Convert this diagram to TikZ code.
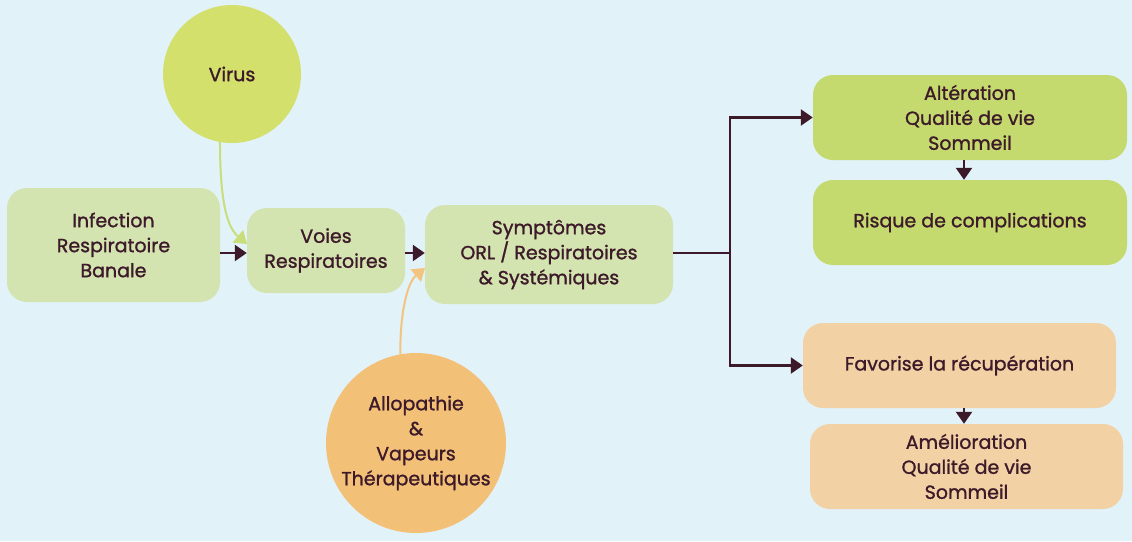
\documentclass[tikz,border=0pt]{standalone}
\usepackage{fontspec}
\setmainfont{Poppins}
\newfontfamily\medfont{Poppins}[UprightFeatures={FakeBold=1.2}]
\usetikzlibrary{arrows.meta}
\definecolor{bg}{HTML}{E1F2F8}
\definecolor{txt}{HTML}{3D1A2A}
\definecolor{lgreen}{HTML}{D4E4B0}
\definecolor{mgreen}{HTML}{C4D96E}
\definecolor{vgreen}{HTML}{D3E06C}
\definecolor{lorange}{HTML}{F2D2A5}
\definecolor{orange}{HTML}{F3C077}
\definecolor{vline}{HTML}{C9DE7A}
\definecolor{oline}{HTML}{F3C47F}
\tikzset{
  box/.style={rounded corners=20pt, inner sep=0pt, align=center, text=txt,
    font=\medfont\fontsize{19}{25}\selectfont},
  circ/.style={circle, inner sep=0pt, align=center, text=txt,
    font=\medfont\fontsize{19}{25}\selectfont},
  conn/.style={draw=txt, line width=2.4pt, -{Triangle[length=12pt,width=16pt]}},
  plain/.style={draw=txt, line width=2.4pt},
  curv/.style={line width=2pt, -{Triangle[length=12pt,width=16pt]}},
}
\begin{document}
\begin{tikzpicture}[x=1pt,y=-1pt]
\fill[bg] (0,0) rectangle (1132,541);
\useasboundingbox (0,0) rectangle (1132,541);

\node[box, fill=lgreen, minimum width=213pt, minimum height=114pt] (inf) at (113.5,245) {Infection\\Respiratoire\\Banale};
\node[box, fill=lgreen, minimum width=158pt, minimum height=85pt] (voies) at (326,250.5) {Voies\\Respiratoires};
\node[box, fill=lgreen, minimum width=248pt, minimum height=99pt] (sym) at (549,254.5) {Symptômes\\ORL / Respiratoires\\\& Systémiques};
\node[circ, fill=vgreen, minimum size=138pt] (virus) at (232,74) {Virus};
\node[circ, fill=orange, minimum size=180pt] (allo) at (416,443) {Allopathie\\\&\\Vapeurs\\Thérapeutiques};
\node[box, fill=mgreen, minimum width=314pt, minimum height=85pt] (alt) at (970,117.5) {Altération\\Qualité de vie\\Sommeil};
\node[box, fill=mgreen, minimum width=314pt, minimum height=85pt] (risk) at (970,222.5) {Risque de complications};
\node[box, fill=lorange, minimum width=313pt, minimum height=85pt] (fav) at (959.5,365.5) {Favorise la récupération};
\node[box, fill=lorange, minimum width=313pt, minimum height=85pt] (ame) at (966.5,466.5) {Amélioration\\Qualité de vie\\Sommeil};

\coordinate (symout) at (sym.east |- 0,253);
\coordinate (split) at (730,253);
\draw[conn] (inf.east |- 0,253) -- (voies.west |- 0,253);
\draw[conn] (voies.east |- 0,253) -- (sym.west |- 0,253);
\draw[plain] (symout) -- (split);
\draw[conn] (split) |- (alt.west);
\draw[conn] (split) |- (fav.west);
\draw[conn] (alt.south -| 964,0) -- (risk.north -| 964,0);
\draw[conn] (fav.south -| 964,0) -- (ame.north -| 964,0);

\coordinate (vend) at (247,244);
\coordinate (aend) at (425,268);
\draw[curv, draw=vline] (virus.-100) .. controls (220,205) and (228,228) .. (vend);
\draw[curv, draw=oline] (allo.100) .. controls (400,310) and (408,282) .. (aend);
\end{tikzpicture}
\end{document}
